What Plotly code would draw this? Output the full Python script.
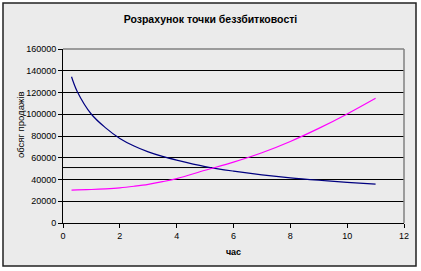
import plotly.graph_objects as go

# Data
hours = [0.3, 0.5, 1, 1.5, 2, 2.5, 3, 3.5, 4, 5, 6, 7, 8, 9, 10, 11]
cost_curve = [134500, 121000, 100000, 87500, 77800, 70800, 65400, 61200, 57800, 51900, 47700, 44300, 41500, 39300, 37400, 35700]
sales_curve = [30300, 30400, 30800, 31400, 32300, 33800, 35600, 38000, 40800, 48500, 56000, 64600, 75000, 87000, 100300, 114700]
breakeven_x = [0, 5.25]
breakeven_y = [51000, 51000]

x_ticks = [0, 2, 4, 6, 8, 10, 12]
y_ticks = [0, 20000, 40000, 60000, 80000, 100000, 120000, 140000, 160000]

FONT = "Liberation Sans, Arial, sans-serif"

fig = go.Figure()
fig.add_trace(go.Scatter(x=breakeven_x, y=breakeven_y, mode="lines",
                         line=dict(color="black", width=1), showlegend=False, hoverinfo="skip"))
fig.add_trace(go.Scatter(x=hours, y=cost_curve, mode="lines",
                         line=dict(color="#000080", width=1.2, shape="spline", smoothing=1.0),
                         showlegend=False))
fig.add_trace(go.Scatter(x=hours, y=sales_curve, mode="lines",
                         line=dict(color="#FF00FF", width=1.2, shape="spline", smoothing=1.0),
                         showlegend=False))

fig.update_layout(
    width=421, height=271,
    margin=dict(l=63, r=17, t=49, b=48),
    paper_bgcolor="white",
    plot_bgcolor="#C0C0C0",
    font=dict(family=FONT, size=9, color="black"),
    title=dict(text="<b>Розрахунок точки беззбитковості</b>", x=0.5, xanchor="center",
               y=1 - 19 / 271, yanchor="middle", font=dict(size=10.5, family=FONT)),
    xaxis=dict(range=[0, 12], tickvals=x_ticks, showgrid=False, zeroline=False,
               showline=True, linecolor="black", linewidth=1, ticks="outside", ticklen=4,
               tickcolor="black",
               title=dict(text="<b>час</b>", font=dict(size=9, family=FONT), standoff=8)),
    yaxis=dict(range=[0, 160000], tickvals=y_ticks, tickformat="d", showgrid=True,
               gridcolor="black", gridwidth=1, zeroline=False,
               showline=True, linecolor="black", linewidth=1, ticks="outside", ticklen=4,
               tickcolor="black"),
    annotations=[
        dict(text="обсяг продажів", textangle=-90, xref="paper", yref="paper",
             x=(20 - 63) / 341, y=(223 - 125) / 174, xanchor="center", yanchor="middle",
             showarrow=False, font=dict(size=9.5, family=FONT)),
    ],
    shapes=[
        dict(type="rect", xref="paper", yref="paper",
             x0=(3 - 63) / 341, x1=(416 - 63) / 341,
             y0=(223 - 266) / 174, y1=(223 - 3) / 174,
             fillcolor="#EBEBEB", line=dict(color="#222222", width=1.5), layer="below"),
        dict(type="line", xref="paper", yref="paper", x0=0, x1=1, y0=1, y1=1,
             line=dict(color="#808080", width=1.5), layer="above"),
        dict(type="line", xref="paper", yref="paper", x0=1, x1=1, y0=0, y1=1,
             line=dict(color="#808080", width=1.5), layer="above"),
    ],
)

fig.write_html("out.html")
